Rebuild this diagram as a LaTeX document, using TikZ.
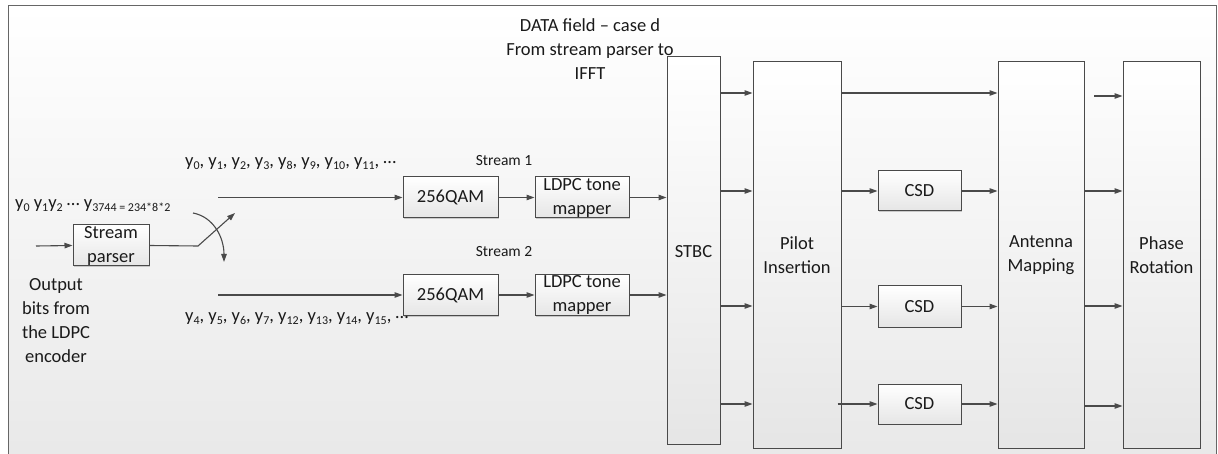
\documentclass[tikz,border=0pt]{standalone}
\usepackage{fontspec}
\setmainfont{Carlito}
\usetikzlibrary{arrows.meta,shadows}
\definecolor{lnc}{HTML}{4A4A4A}
\definecolor{txc}{HTML}{1A1A1A}
\newcommand\sbs[1]{\raisebox{-2.5pt}{\fontsize{12}{12}\selectfont #1}}
\newcommand\mdots{\raisebox{3.5pt}{…}}
\begin{document}
\begin{tikzpicture}[x=1pt,y=-1pt,
  blk/.style={draw=lnc, line width=1pt, top color=white, bottom color=black!10, inner sep=0pt,
    drop shadow={shadow xshift=1.2pt,shadow yshift=-1.2pt,opacity=0.3,fill=black!60}},
  txt/.style={text=txc, font=\fontsize{18.5}{24}\selectfont, align=center, inner sep=0pt},
  smalltxt/.style={text=txc, font=\fontsize{15.5}{19}\selectfont, inner sep=0pt},
  arr/.style={draw=lnc, line width=1.1pt, -{Triangle[length=8pt,width=5.5pt]}},
  wire/.style={draw=lnc, line width=1.1pt}]
\useasboundingbox (0,0) rectangle (1218,454);
\fill[white] (0,0) rectangle (1218,454);
\draw[draw=black!60, line width=1pt, top color=white, bottom color=black!9] (8,6) rectangle (1216,470);

% blocks
\node[blk, minimum width=76, minimum height=41] (sp) at (111,245.5) {};
\node[txt] (sptx) at (sp) {Stream\\parser};
\node[blk, minimum width=95, minimum height=41] (q1) at (450.5,197.5) {};
\node[txt] (q1tx) at (q1) {256QAM};
\node[blk, minimum width=95, minimum height=41] (q2) at (450.5,295) {};
\node[txt] (q2tx) at (q2) {256QAM};
\node[blk, minimum width=94, minimum height=41] (l1) at (582,197.5) {};
\node[txt] (l1tx) at (l1) {LDPC tone\\mapper};
\node[blk, minimum width=94, minimum height=41] (l2) at (582,295) {};
\node[txt] (l2tx) at (l2) {LDPC tone\\mapper};
\node[blk, minimum width=53, minimum height=387] (stbc) at (693.5,250.5) {};
\node[txt] (stbctx) at (693.5,252) {STBC};
\node[blk, minimum width=88, minimum height=386] (pilot) at (797,255) {};
\node[txt] (pilottx) at (pilot) {Pilot\\Insertion};
\node[blk, minimum width=83, minimum height=40] (c1) at (919.5,191) {};
\node[txt] (c1tx) at (c1) {CSD};
\node[blk, minimum width=83, minimum height=41] (c2) at (919.5,306.5) {};
\node[txt] (c2tx) at (c2) {CSD};
\node[blk, minimum width=83, minimum height=40] (c3) at (919.5,404) {};
\node[txt] (c3tx) at (c3) {CSD};
\node[blk, minimum width=86, minimum height=386] (ant) at (1041,255) {};
\node[txt] (anttx) at (ant) {Antenna\\Mapping};
\node[blk, minimum width=77, minimum height=386] (ph) at (1161.5,255) {};
\node[txt] (phtx) at (ph) {Phase\\Rotation};

% labels
\node[txt] (title) at (590,49) {DATA field – case d\\From stream parser to\\IFFT};
\node[txt, anchor=west] (inlbl) at (15,206) {y\sbs{0} y\sbs{1}y\sbs{2} \mdots{} y\sbs{3744 = 234*8*2}};
\node[txt] (outlbl) at (56,321) {Output\\bits from\\the LDPC\\encoder};
\node[txt, anchor=west] (s1seq) at (185,164) {y\sbs{0}, y\sbs{1}, y\sbs{2}, y\sbs{3}, y\sbs{8}, y\sbs{9}, y\sbs{10}, y\sbs{11}, \mdots};
\node[txt, anchor=west] (s2seq) at (185,319) {y\sbs{4}, y\sbs{5}, y\sbs{6}, y\sbs{7}, y\sbs{12}, y\sbs{13}, y\sbs{14}, y\sbs{15}, \mdots};
\node[smalltxt] (st1) at (504,161) {Stream 1};
\node[smalltxt] (st2) at (504,252) {Stream 2};

% coordinates
\coordinate (inp) at (36,246);
\coordinate (kink) at (198,246);
\coordinate (swtip) at (235,213);
\coordinate (cvs) at (193,213);
\coordinate (cve) at (224,262);
\coordinate (s1) at (218,197.5);
\coordinate (s2) at (218,295);
\coordinate (ap0) at (1094,96);

% connectors
\draw[arr] (inp) -- (sp.west);
\draw[arr] (sp.east) -- (kink) -- (swtip);
\draw[arr] (cvs) .. controls (214,217) and (224,238) .. (cve);
\draw[arr] (s1) -- (q1.west);
\draw[arr] (s2) -- (q2.west);
\draw[arr] (q1) -- (l1);
\draw[arr] (q2) -- (l2);
\draw[arr] (l1.east) -- (l1.east -| stbc.west);
\draw[arr] (l2.east) -- (l2.east -| stbc.west);
\foreach \yy in {93,191,306,404}
  \draw[arr] (stbc.east |- 0,\yy) -- (pilot.west |- 0,\yy);
\draw[arr] (pilot.east |- 0,93) -- (ant.west |- 0,93);
\draw[arr] (pilot.east |- c1.west) -- (c1.west);
\draw[arr] (pilot.east |- c2.west) -- (c2.west);
\draw[arr] ([xshift=-4pt]pilot.east |- c3.west) -- (c3.west);
\draw[arr] (c1.east) -- (c1.east -| ant.west);
\draw[arr] (c2.east) -- (c2.east -| ant.west);
\draw[arr] (c3.east) -- (c3.east -| ant.west);
\draw[arr] (ap0) -- (ap0 -| ph.west);
\foreach \yy in {191,306,406}
  \draw[arr] (ant.east |- 0,\yy) -- (ph.west |- 0,\yy);
\end{tikzpicture}
\end{document}
